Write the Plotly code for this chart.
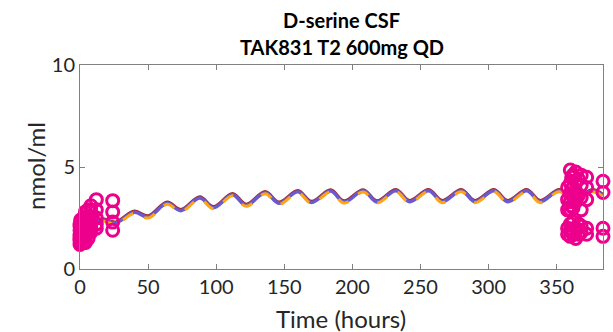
import plotly.graph_objects as go

# Model curve: peaks/troughs of the simulated profile
model_t = [0, 16, 26, 40, 50, 64, 74, 88, 98, 112, 122, 136, 146, 160, 170, 184, 194,
           208, 218, 232, 242, 256, 266, 280, 290, 304, 314, 328, 338, 352, 362, 376, 384]
model_v = [1.8, 2.4, 2.25, 2.78, 2.55, 3.22, 2.86, 3.48, 3.0, 3.64, 3.12, 3.74, 3.22, 3.79, 3.26, 3.82, 3.28,
           3.83, 3.29, 3.84, 3.3, 3.84, 3.3, 3.84, 3.3, 3.84, 3.3, 3.84, 3.3, 3.84, 3.3, 3.84, 3.6]
upper_offset = 0.06
lower_offset = -0.05

# Observed data (open circles)
obs_t = [0, 0, 0, 0, 0, 0, 0, 0,
         0.5, 0.5, 0.5, 0.5, 0.5,
         1, 1, 1, 1, 1, 1,
         2, 2, 2, 2, 2, 2, 2,
         3, 3, 3, 3, 3,
         4, 4, 4, 4, 4, 4, 4,
         6, 6, 6, 6, 6,
         8, 8, 8, 8, 8, 8,
         12, 12, 12, 12, 12,
         24, 24, 24, 24,
         358, 358, 358, 358, 358,
         360, 360, 360, 360, 360, 360, 360, 360,
         361, 361, 361, 361,
         362, 362, 362, 362, 362, 362,
         364, 364, 364, 364, 364, 364,
         366, 366, 366, 366,
         368, 368, 368, 368, 368, 368,
         372, 372, 372, 372, 372,
         384, 384, 384, 384]
obs_v = [1.2, 1.5, 1.7, 1.9, 2.1, 2.2, 1.4, 1.6,
         1.3, 1.6, 1.9, 2.2, 2.4,
         1.3, 1.6, 1.8, 2.0, 2.2, 2.4,
         1.4, 1.6, 1.8, 2.0, 2.2, 2.3, 1.5,
         1.3, 1.6, 1.9, 2.2, 2.5,
         1.3, 1.7, 1.9, 2.1, 2.3, 2.5, 2.8,
         1.5, 1.8, 2.1, 2.6, 2.9,
         1.8, 2.0, 2.2, 2.5, 2.8, 3.1,
         2.2, 2.5, 2.9, 3.4, 2.0,
         1.9, 2.3, 2.8, 3.35,
         1.7, 2.0, 2.9, 3.4, 4.0,
         1.6, 1.9, 2.2, 2.9, 3.3, 3.7, 4.2, 4.85,
         1.8, 3.1, 3.9, 4.5,
         1.7, 2.3, 3.0, 3.6, 4.0, 4.6,
         1.5, 2.0, 3.3, 3.8, 4.3, 4.75,
         1.7, 2.2, 3.6, 4.4,
         1.8, 2.1, 2.9, 3.5, 4.1, 4.6,
         1.7, 2.0, 3.4, 4.0, 4.5,
         1.6, 2.0, 3.75, 4.3]

x_ticks = [0, 50, 100, 150, 200, 250, 300, 350]
y_ticks = [0, 5, 10]

title_lines = ["D-serine CSF", "TAK831 T2 600mg QD"]
x_label = "Time (hours)"
y_label = "nmol/ml"

FONT = "Lato, 'Open Sans', sans-serif"
AX = "#808080"
TXT = "#262626"

W, H = 613, 332
ML, MR, MT, MB = 80, 10, 65, 63
PW, PH = W - ML - MR, H - MT - MB

fig = go.Figure()
fig.add_trace(go.Scatter(x=model_t, y=[v + upper_offset for v in model_v], mode="lines",
                         line=dict(color="#a0282d", width=3, shape="spline"), hoverinfo="skip"))
fig.add_trace(go.Scatter(x=model_t, y=model_v, mode="lines",
                         line=dict(color="#6a5acd", width=3.5, shape="spline"), hoverinfo="skip"))
fig.add_trace(go.Scatter(x=model_t, y=[v + lower_offset for v in model_v], mode="lines",
                         line=dict(color="#ffa515", width=3, shape="spline", dash="12px,12px"),
                         hoverinfo="skip"))
fig.add_trace(go.Scatter(x=obs_t, y=obs_v, mode="markers", cliponaxis=False,
                         marker=dict(symbol="circle-open", size=12, color="#ec008c",
                                     line=dict(color="#ec008c", width=3))))

fig.update_layout(
    width=W, height=H,
    margin=dict(l=ML, r=MR, t=MT, b=MB),
    paper_bgcolor="white", plot_bgcolor="white",
    showlegend=False,
    font=dict(family=FONT, color=TXT, size=20),
)
fig.update_xaxes(range=[0, 384], tickvals=x_ticks, ticks="inside", ticklen=5, tickcolor=AX,
                 showline=True, linecolor=AX, linewidth=1, mirror="ticks", showgrid=False,
                 zeroline=False, tickfont=dict(size=20, color=TXT))
fig.update_yaxes(range=[0, 10], tickvals=y_ticks, ticks="inside", ticklen=5, tickcolor=AX,
                 showline=True, linecolor=AX, linewidth=1, mirror="ticks", showgrid=False,
                 zeroline=False, tickfont=dict(size=20, color=TXT))

def px_to_paper_y(ypix):
    return (H - MB - ypix) / PH

def px_to_paper_x(xpix):
    return (xpix - ML) / PW

# Title lines
for line, ypix in zip(title_lines, [20, 47]):
    fig.add_annotation(text="<b>" + line + "</b>", x=0.5, xref="paper", y=px_to_paper_y(ypix),
                       yref="paper", yanchor="middle", showarrow=False,
                       font=dict(size=20, color="black"))

# Axis titles
fig.add_annotation(text=x_label, x=px_to_paper_x(341), xref="paper", y=px_to_paper_y(318),
                   yref="paper", yanchor="middle", showarrow=False,
                   font=dict(size=24, color=TXT))
fig.add_annotation(text=y_label, x=px_to_paper_x(35), xref="paper", y=px_to_paper_y(166),
                   yref="paper", xanchor="center", yanchor="middle", textangle=-90,
                   showarrow=False, font=dict(size=24, color=TXT))

fig.write_html("out.html")
